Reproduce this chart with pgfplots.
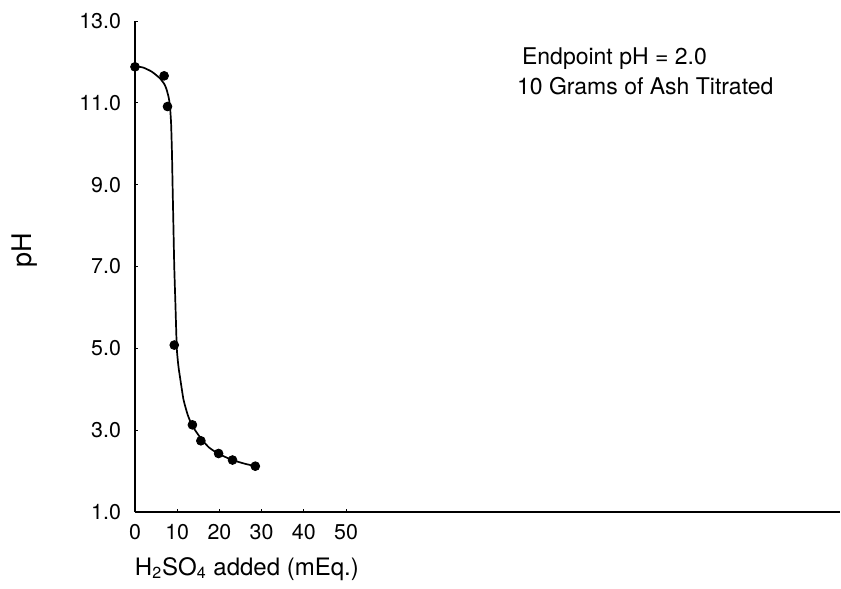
\documentclass[border=0pt]{standalone}
\usepackage{fontspec}
\setmainfont{TeX Gyre Heros}
\usepackage{pgfplots}
\pgfplotsset{compat=1.18}

\begin{document}
\begin{tikzpicture}
\path[use as bounding box] (-67.5pt,-38.5pt) rectangle (353pt,256pt);
\begin{axis}[
  at={(0,0)}, anchor=south west,
  scale only axis, width=352.5pt, height=245.5pt,
  xmin=0, xmax=167, ymin=1, ymax=13,
  axis x line=bottom, axis y line=left,
  axis line style={line width=0.85pt, -},
  xtick={0,10,20,30,40,50},
  xticklabels={0,10,20,30,40,50},
  ytick={1,3,5,7,9,11,13},
  yticklabels={1.0,3.0,5.0,7.0,9.0,11.0,13.0},
  tick style={black, line width=0.4pt},
  major tick length=1.5pt,
  tick align=inside,
  tick label style={font=\fontsize{10.7}{12}\selectfont},
  xticklabel style={yshift=-2.5pt},
  yticklabel style={xshift=-3.5pt},
  clip=false,
]
% fitted titration curve
\addplot[black, line width=0.85pt, smooth, tension=0.3] coordinates {
  (0,11.9) (2,11.86) (4,11.76) (5.9,11.6) (7,11.45) (7.5,11.32)
  (8,11.12) (8.3,10.9) (8.55,10.5) (8.75,9.8) (8.9,9.0) (9.1,8.0)
  (9.3,7.0) (9.6,6.0) (9.9,5.0) (10.3,4.55) (10.8,4.2) (11.5,3.74)
  (12.5,3.37) (13.6,3.1) (15.6,2.8) (17.5,2.58) (19.8,2.42)
  (23.1,2.27) (26,2.18) (28.5,2.12)
};
% measured points
\addplot[only marks, mark=*, mark size=2.2pt, black] coordinates {
  (0,11.88) (6.9,11.66) (7.7,10.91) (9.3,5.08) (13.6,3.13)
  (15.6,2.74) (19.8,2.43) (23.1,2.27) (28.5,2.12)
};
\node[rotate=90, font=\fontsize{13.5}{16}\selectfont]
  at ([xshift=-55pt]axis description cs:0,0.534) {pH};
\node[anchor=base, font=\fontsize{12}{14}\selectfont]
  at ([yshift=-31.5pt]axis cs:26.5,1) {H\textsubscript{2}SO\textsubscript{4} added (mEq.)};
\node[anchor=base west, inner sep=0pt, font=\fontsize{11.5}{14}\selectfont]
  at (axis cs:91.6,11.93) {Endpoint pH = 2.0};
\node[anchor=base west, inner sep=0pt, font=\fontsize{11.5}{14}\selectfont]
  at (axis cs:90.4,11.2) {10 Grams of Ash Titrated};
\end{axis}
\end{tikzpicture}
\end{document}
